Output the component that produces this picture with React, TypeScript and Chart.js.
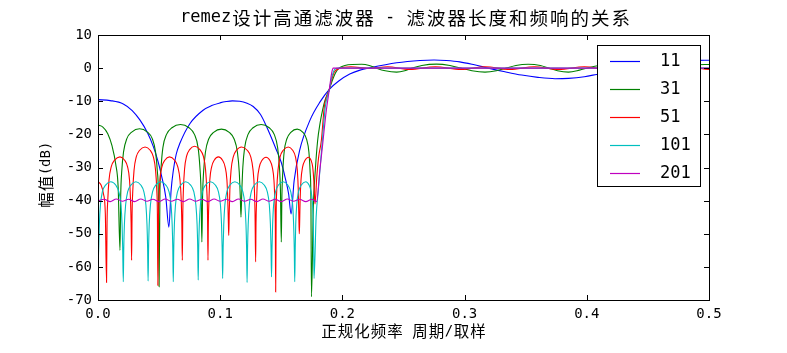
import React, { useEffect, useRef } from "react";
import { Chart, registerables } from "chart.js";

Chart.register(...registerables);

const chartTitle = "remez设计高通滤波器 - 滤波器长度和频响的关系";
const xAxisLabel = "正规化频率 周期/取样";
const yAxisLabel = "幅值(dB)";
const seriesLabels = ["11", "31", "51", "101", "201"];
const seriesColors = ["#0000ff", "#008000", "#ff0000", "#00bfbf", "#bf00bf"];
const xTickValues = [0, 0.1, 0.2, 0.3, 0.4, 0.5];
const yTickValues = [-70, -60, -50, -40, -30, -20, -10, 0, 10];

// [normalized frequency, dB]
const resp11: [number, number][] = [
  [0, -9.5], [0.01, -9.8], [0.0207, -10.8], [0.028, -12.8], [0.0344, -15.7], [0.0405, -19.5],
  [0.0453, -23.7], [0.049, -28], [0.052, -32.5], [0.0555, -39], [0.058, -48], [0.0598, -37],
  [0.0616, -31], [0.064, -26], [0.067, -22.7], [0.0753, -16.7], [0.086, -12.7], [0.093, -11.3],
  [0.0998, -10.5], [0.105, -10.1], [0.11, -9.9], [0.116, -10.0], [0.122, -10.6], [0.127, -11.6],
  [0.133, -14], [0.138, -17.7], [0.146, -24.7], [0.15, -28.5], [0.153, -32.8], [0.156, -38],
  [0.158, -44], [0.1605, -34], [0.165, -24.8], [0.1735, -15.7], [0.1817, -10.2], [0.1893, -6.4],
  [0.197, -3.9], [0.206, -1.8], [0.2144, -0.6], [0.2226, 0.1], [0.2444, 1.6], [0.2635, 2.3],
  [0.275, 2.45], [0.285, 2.3], [0.296, 1.9], [0.308, 1.0], [0.3194, 0], [0.333, -1.1],
  [0.3467, -2.1], [0.36, -2.8], [0.374, -3.2], [0.385, -3.1], [0.398, -2.6], [0.408, -1.9],
  [0.43, -0.3], [0.45, 1.0], [0.47, 1.9], [0.49, 2.35], [0.5, 2.4],
];

const resp31: [number, number][] = [
  [0, -17.2], [0.004, -17.8], [0.008, -19.8], [0.0115, -23.5], [0.0145, -29], [0.0165, -36], [0.018, -55],
  [0.0186, -38.3], [0.0194, -31.3], [0.0209, -25.3], [0.0236, -21.3], [0.0276, -19.3], [0.034, -18.3], [0.0404, -19.3], [0.0444, -21.3], [0.0471, -25.3], [0.0486, -31.3], [0.0494, -38.3], [0.05, -66],
  [0.0507, -37], [0.0516, -30], [0.0531, -24], [0.0561, -20], [0.0605, -18], [0.0675, -17], [0.0745, -18], [0.0789, -20], [0.0819, -24], [0.0834, -30], [0.0843, -37], [0.085, -52.5],
  [0.0856, -38.4], [0.0864, -31.4], [0.0879, -25.4], [0.0906, -21.4], [0.0946, -19.4], [0.101, -18.4], [0.1074, -19.4], [0.1114, -21.4], [0.1141, -25.4], [0.1156, -31.4], [0.1164, -38.4], [0.117, -45],
  [0.1177, -37], [0.1185, -30], [0.12, -24], [0.1228, -20], [0.1269, -18], [0.1335, -17], [0.1401, -18], [0.1442, -20], [0.147, -24], [0.1485, -30], [0.1493, -37], [0.15, -52.5],
  [0.1505, -38.4], [0.1512, -31.4], [0.1523, -25.4], [0.1545, -21.4], [0.1578, -19.4], [0.163, -18.4], [0.1677, -19.4], [0.1706, -21.4], [0.1726, -25.4], [0.1736, -31.4], [0.1742, -38.4], [0.1747, -69],
  [0.1762, -42], [0.1778, -31], [0.1797, -22], [0.1817, -16.7], [0.1838, -12.6], [0.1858, -9.7], [0.1893, -6.4],
  [0.1915, -4.0], [0.1939, -1.8], [0.196, -0.5], [0.198, 0.2], [0.202, 0.8], [0.208, 1.1], [0.2158, 1.15],
  [0.222, 0.8], [0.227, 0.1], [0.235, -0.8], [0.2444, -1.2], [0.251, -0.8], [0.257, 0], [0.265, 0.8],
  [0.277, 1.2], [0.288, 0.8], [0.297, 0], [0.306, -0.8], [0.3167, -1.2], [0.326, -0.8], [0.334, 0],
  [0.342, 0.8], [0.352, 1.15], [0.362, 0.8], [0.369, 0], [0.376, -0.8], [0.385, -1.2], [0.394, -0.6],
  [0.402, 0.2], [0.41, 0.8], [0.42, 1.1], [0.43, 0.8], [0.438, 0], [0.446, -0.8], [0.454, -1.2],
  [0.463, -0.8], [0.471, 0], [0.48, 0.7], [0.49, 1.0], [0.5, 1.1],
];

const resp51: [number, number][] = [
  [0, -34.3], [0.0025, -35.3], [0.0045, -38], [0.006, -44], [0.007, -64.7],
  [0.0074, -46.8], [0.008, -39.8], [0.009, -33.8], [0.0108, -29.8], [0.0136, -27.8], [0.018, -26.8], [0.0218, -27.8], [0.0242, -29.8], [0.0258, -33.8], [0.0266, -39.8], [0.0271, -46.8], [0.0275, -58],
  [0.0279, -43.8], [0.0285, -36.8], [0.0295, -30.8], [0.0313, -26.8], [0.0341, -24.8], [0.0385, -23.8], [0.0427, -24.8], [0.0453, -26.8], [0.0471, -30.8], [0.0481, -36.8], [0.0486, -43.8], [0.049, -65.6],
  [0.0494, -46.8], [0.0499, -39.8], [0.0507, -33.8], [0.0523, -29.8], [0.0547, -27.8], [0.0585, -26.8], [0.0627, -27.8], [0.0653, -29.8], [0.0671, -33.8], [0.0681, -39.8], [0.0686, -46.8], [0.069, -58],
  [0.0694, -43.6], [0.0699, -36.6], [0.0708, -30.6], [0.0725, -26.6], [0.075, -24.6], [0.079, -23.6], [0.0834, -24.6], [0.0862, -26.6], [0.088, -30.6], [0.089, -36.6], [0.0896, -43.6], [0.09, -58],
  [0.0903, -46.8], [0.0908, -39.8], [0.0915, -33.8], [0.093, -29.8], [0.0951, -27.8], [0.0985, -26.8], [0.1019, -27.8], [0.104, -29.8], [0.1055, -33.8], [0.1062, -39.8], [0.1067, -46.8], [0.107, -50.5],
  [0.1074, -43.8], [0.1079, -36.8], [0.1089, -30.8], [0.1107, -26.8], [0.1133, -24.8], [0.1175, -23.8], [0.1221, -24.8], [0.125, -26.8], [0.1269, -30.8], [0.128, -36.8], [0.1285, -43.8], [0.129, -58.5],
  [0.1293, -46.9], [0.1298, -39.9], [0.1305, -33.9], [0.132, -29.9], [0.1341, -27.9], [0.1375, -26.9], [0.1407, -27.9], [0.1426, -29.9], [0.144, -33.9], [0.1447, -39.9], [0.1451, -46.9], [0.1454, -67.6],
  [0.1458, -43.8], [0.1463, -36.8], [0.1473, -30.8], [0.149, -26.8], [0.1516, -24.8], [0.1557, -23.8], [0.1593, -24.8], [0.1616, -26.8], [0.1631, -30.8], [0.1639, -36.8], [0.1643, -43.8], [0.1647, -50],
  [0.165, -46.9], [0.1654, -39.9], [0.1661, -33.9], [0.1674, -29.9], [0.1693, -27.9], [0.1723, -26.9], [0.1744, -27.9], [0.1757, -29.9], [0.1766, -33.9], [0.1771, -38], [0.1776, -41],
  [0.179, -33], [0.1805, -27], [0.1828, -21.8], [0.1852, -11.7], [0.1893, -6.4], [0.1915, -3.2], [0.1934, -1.2],
  [0.197, -0.2], [0.207, 0.4], [0.222, -0.1], [0.237, 0.4], [0.255, -0.4], [0.276, 0.4], [0.297, -0.4],
  [0.317, 0.4], [0.337, -0.4], [0.357, 0.4], [0.377, -0.4], [0.398, 0.4], [0.418, -0.4], [0.438, 0.4],
  [0.458, -0.4], [0.479, 0.4], [0.5, -0.4],
];

const resp101: [number, number][] = [
  [0, -60], [0.0006, -54.3], [0.0011, -47.3], [0.002, -41.3], [0.0036, -37.3], [0.0062, -35.3], [0.0104, -34.3], [0.0145, -35.3], [0.017, -37.3], [0.0188, -41.3], [0.0197, -47.3], [0.0202, -54.3], [0.0207, -64.5],
  [0.0211, -54.3], [0.0216, -47.3], [0.0226, -41.3], [0.0243, -37.3], [0.0269, -35.3], [0.031, -34.3], [0.035, -35.3], [0.0375, -37.3], [0.0392, -41.3], [0.0401, -47.3], [0.0406, -54.3], [0.041, -64.3],
  [0.0414, -54.3], [0.0419, -47.3], [0.0429, -41.3], [0.0447, -37.3], [0.0473, -35.3], [0.0515, -34.3], [0.0555, -35.3], [0.0581, -37.3], [0.0598, -41.3], [0.0607, -47.3], [0.0612, -54.3], [0.0616, -64.5],
  [0.062, -54.3], [0.0625, -47.3], [0.0634, -41.3], [0.0651, -37.3], [0.0677, -35.3], [0.0717, -34.3], [0.0758, -35.3], [0.0784, -37.3], [0.0801, -41.3], [0.0811, -47.3], [0.0816, -54.3], [0.082, -64],
  [0.0824, -54.3], [0.0829, -47.3], [0.0838, -41.3], [0.0855, -37.3], [0.088, -35.3], [0.092, -34.3], [0.096, -35.3], [0.0985, -37.3], [0.1002, -41.3], [0.1011, -47.3], [0.1016, -54.3], [0.102, -63.5],
  [0.1024, -54.3], [0.1029, -47.3], [0.1038, -41.3], [0.1055, -37.3], [0.108, -35.3], [0.112, -34.3], [0.116, -35.3], [0.1185, -37.3], [0.1202, -41.3], [0.1211, -47.3], [0.1216, -54.3], [0.122, -64.7],
  [0.1224, -54.3], [0.1229, -47.3], [0.1238, -41.3], [0.1255, -37.3], [0.128, -35.3], [0.132, -34.3], [0.136, -35.3], [0.1385, -37.3], [0.1402, -41.3], [0.1411, -47.3], [0.1416, -54.3], [0.142, -63],
  [0.1424, -54.3], [0.1429, -47.3], [0.1437, -41.3], [0.1453, -37.3], [0.1477, -35.3], [0.1515, -34.3], [0.1553, -35.3], [0.1577, -37.3], [0.1593, -41.3], [0.1601, -47.3], [0.1606, -54.3], [0.161, -64.5],
  [0.1614, -54.3], [0.1618, -47.3], [0.1626, -41.3], [0.1641, -37.3], [0.1664, -35.3], [0.17, -34.3], [0.1727, -35.3], [0.1744, -37.3], [0.1756, -41.3], [0.1762, -47.3], [0.1765, -54.3], [0.1768, -63.5],
  [0.1785, -45], [0.1803, -36.8], [0.182, -29], [0.1836, -21.8], [0.186, -11.7], [0.1893, -6.4], [0.1915, -2.5],
  [0.1939, -0.3], [0.197, 0], [0.5, 0],
];

const resp201: [number, number][] = [
  [0, -40.1], [0.005, -39.6], [0.01, -40.3], [0.015, -39.5], [0.02, -40.2], [0.025, -39.6], [0.03, -40.3],
  [0.035, -39.5], [0.04, -40.2], [0.045, -39.6], [0.05, -40.3], [0.055, -39.5], [0.06, -40.2], [0.065, -39.6],
  [0.07, -40.3], [0.075, -39.5], [0.08, -40.2], [0.085, -39.6], [0.09, -40.3], [0.095, -39.5], [0.1, -40.2],
  [0.105, -39.6], [0.11, -40.3], [0.115, -39.5], [0.12, -40.2], [0.125, -39.6], [0.13, -40.3], [0.135, -39.5],
  [0.14, -40.2], [0.145, -39.6], [0.15, -40.3], [0.155, -39.5], [0.16, -40.2], [0.165, -39.6], [0.17, -40.3],
  [0.175, -39.6], [0.1789, -40.3], [0.1815, -31], [0.184, -22.5], [0.1866, -13.5], [0.1893, -6.4],
  [0.1912, -1.5], [0.1925, 0], [0.5, 0],
];

const allSeries = [resp11, resp31, resp51, resp101, resp201];

const MONO = "'DejaVu Sans Mono', monospace";
const CJK = "'Noto Sans CJK SC', sans-serif";
const isCJK = (ch: string) => /[\u3000-\u9fff\uff00-\uffef]/.test(ch);

function drawMixed(
  ctx: CanvasRenderingContext2D,
  text: string,
  cx: number,
  cy: number,
  latinSize: number,
  cjkSize: number,
  cjkGap: number
) {
  const runs: { cjk: boolean; s: string }[] = [];
  for (const ch of text) {
    const c = isCJK(ch);
    if (runs.length && runs[runs.length - 1].cjk === c) runs[runs.length - 1].s += ch;
    else runs.push({ cjk: c, s: ch });
  }
  const widths = runs.map((r) => {
    if (r.cjk) {
      ctx.font = `${cjkSize}px ${CJK}`;
      let w = 0;
      for (const ch of r.s) w += ctx.measureText(ch).width + cjkGap;
      return w;
    }
    ctx.font = `${latinSize}px ${MONO}`;
    return ctx.measureText(r.s).width;
  });
  const total = widths.reduce((a, b) => a + b, 0);
  let x = cx - total / 2;
  ctx.textBaseline = "middle";
  ctx.textAlign = "left";
  ctx.fillStyle = "#000";
  runs.forEach((r, i) => {
    if (r.cjk) {
      ctx.font = `${cjkSize}px ${CJK}`;
      let xx = x + cjkGap / 2;
      for (const ch of r.s) {
        ctx.fillText(ch, xx, cy);
        xx += ctx.measureText(ch).width + cjkGap;
      }
    } else {
      ctx.font = `${latinSize}px ${MONO}`;
      ctx.fillText(r.s, x, cy);
    }
    x += widths[i];
  });
}

const decorPlugin = {
  id: "decor",
  afterDatasetsDraw(chart: any) {
    const { ctx, chartArea: a, scales } = chart;
    const xs = scales.x;
    const ys = scales.y;
    ctx.save();
    ctx.strokeStyle = "#000";
    ctx.lineWidth = 1;
    ctx.strokeRect(Math.round(a.left) + 0.5, Math.round(a.top) + 0.5, Math.round(a.right - a.left), Math.round(a.bottom - a.top));
    ctx.beginPath();
    xTickValues.forEach((v) => {
      const px = Math.round(xs.getPixelForValue(v)) + 0.5;
      ctx.moveTo(px, a.bottom);
      ctx.lineTo(px, a.bottom - 5);
      ctx.moveTo(px, a.top);
      ctx.lineTo(px, a.top + 5);
    });
    yTickValues.forEach((v) => {
      const py = Math.round(ys.getPixelForValue(v)) + 0.5;
      ctx.moveTo(a.left, py);
      ctx.lineTo(a.left + 5, py);
      ctx.moveTo(a.right, py);
      ctx.lineTo(a.right - 5, py);
    });
    ctx.stroke();

    const lx = 597, ly = 45, lw = 103, lh = 141;
    ctx.fillStyle = "#fff";
    ctx.fillRect(lx, ly, lw, lh);
    ctx.strokeRect(lx + 0.5, ly + 0.5, lw, lh);
    seriesLabels.forEach((lab, i) => {
      const y = 61 + i * 28;
      ctx.strokeStyle = seriesColors[i];
      ctx.lineWidth = 1.2;
      ctx.beginPath();
      ctx.moveTo(610, y + 0.5);
      ctx.lineTo(640, y + 0.5);
      ctx.stroke();
      ctx.fillStyle = "#000";
      ctx.font = `17px ${MONO}`;
      ctx.textAlign = "left";
      ctx.textBaseline = "middle";
      ctx.fillText(lab, 660, y + 1);
    });
    ctx.restore();
  },
  afterDraw(chart: any) {
    const { ctx, chartArea: a } = chart;
    const cx = (a.left + a.right) / 2;
    ctx.save();
    drawMixed(ctx, chartTitle, cx + 2, 18, 17, 18.5, 2);
    drawMixed(ctx, xAxisLabel, cx, 331, 14, 15.5, 1);
    ctx.translate(46, 175);
    ctx.rotate(-Math.PI / 2);
    drawMixed(ctx, yAxisLabel, 0, 0, 14, 15.5, 1);
    ctx.restore();
  },
};

export default function App() {
  const ref = useRef<HTMLCanvasElement | null>(null);
  useEffect(() => {
    document.body.style.margin = "0";
    const canvas = ref.current;
    if (!canvas) return;
    const chart = new Chart(canvas, {
      type: "line",
      data: {
        datasets: allSeries.map((s, i) => ({
          label: seriesLabels[i],
          data: s.map(([x, y]) => ({ x, y })),
          borderColor: seriesColors[i],
          backgroundColor: seriesColors[i],
          borderWidth: 1.1,
          pointRadius: 0,
          fill: false,
          cubicInterpolationMode: "monotone" as const,
          order: 5 - i,
        })),
      },
      options: {
        animation: false,
        responsive: false,
        devicePixelRatio: 1,
        events: [],
        layout: { padding: { left: 0, right: 78, top: 35, bottom: 0 } },
        plugins: {
          legend: { display: false },
          tooltip: { enabled: false },
          title: { display: false },
        },
        scales: {
          x: {
            type: "linear",
            min: 0,
            max: 0.5,
            grid: { display: false, drawTicks: false },
            border: { display: false },
            afterFit: (s: any) => {
              s.height = 53;
            },
            afterBuildTicks: (s: any) => {
              s.ticks = xTickValues.map((v) => ({ value: v }));
            },
            ticks: {
              autoSkip: false,
              maxRotation: 0,
              padding: 6,
              color: "#000",
              font: { family: "DejaVu Sans Mono", size: 14 },
              callback: (v: any) => Number(v).toFixed(1),
            },
          },
          y: {
            type: "linear",
            min: -70,
            max: 10,
            grid: { display: false, drawTicks: false },
            border: { display: false },
            afterFit: (s: any) => {
              s.width = 98;
            },
            afterBuildTicks: (s: any) => {
              s.ticks = yTickValues.map((v) => ({ value: v }));
            },
            ticks: {
              autoSkip: false,
              padding: 6,
              color: "#000",
              font: { family: "DejaVu Sans Mono", size: 14 },
              callback: (v: any) => String(v),
            },
          },
        },
      },
      plugins: [decorPlugin],
    });
    return () => chart.destroy();
  }, []);
  return <canvas ref={ref} width={787} height={353} style={{ display: "block" }} />;
}
